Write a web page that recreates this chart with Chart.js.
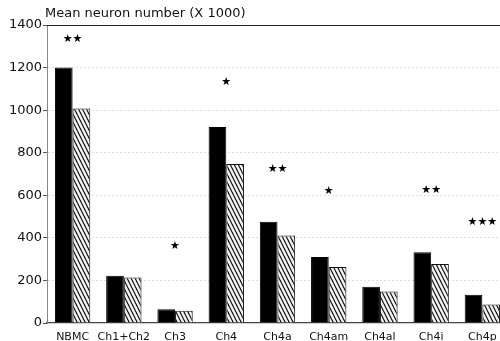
<!DOCTYPE html>
<html>
<head>
<meta charset="utf-8">
<script src="https://cdn.jsdelivr.net/npm/chart.js@4.4.1/dist/chart.umd.min.js"></script>
<style>
  html, body { margin: 0; padding: 0; background: #fff; overflow: hidden; }
  #wrap { position: relative; width: 508px; height: 341px; }
</style>
</head>
<body>
<div id="wrap"><canvas id="c"></canvas></div>
<script>
// Basal forebrain cell groups
const categories = ['NBMC', 'Ch1+Ch2', 'Ch3', 'Ch4', 'Ch4a', 'Ch4am', 'Ch4al', 'Ch4i', 'Ch4p'];
// Mean neuron number (x 1000), solid bars
const controlValues = [1200, 222, 65, 921, 476, 310, 170, 332, 133];
// Mean neuron number (x 1000), hatched bars
const patientValues = [1008, 214, 58, 747, 411, 263, 148, 277, 87];
// Significance marks and the level they sit at
const sigMarks = ['★★', '', '★', '★', '★★', '★', '', '★★', '★★★'];
const sigLevels = [1335, null, 362, 1130, 724, 620, null, 625, 476];
const yTicks = [0, 200, 400, 600, 800, 1000, 1200, 1400];
const axisTitle = 'Mean neuron number (X 1000)';

const FONT = "'DejaVu Sans', sans-serif";

function hatchPattern(ctx) {
  const t = document.createElement('canvas');
  t.width = 4; t.height = 8;
  const g = t.getContext('2d');
  g.fillStyle = '#f2f2f2';
  g.fillRect(0, 0, 4, 8);
  g.strokeStyle = '#111';
  g.lineWidth = 1.2;
  for (const off of [-4, 0, 4]) {
    g.beginPath();
    g.moveTo(off - 1, -2);
    g.lineTo(off + 5, 10);
    g.stroke();
  }
  return ctx.createPattern(t, 'repeat');
}

const ctx = document.getElementById('c').getContext('2d');

const overlay = {
  id: 'overlay',
  afterDatasetsDraw(chart) {
    const { ctx, chartArea, scales } = chart;
    ctx.save();
    // frame line along the top of the plot
    ctx.strokeStyle = '#222';
    ctx.lineWidth = 1.2;
    ctx.beginPath();
    ctx.moveTo(chartArea.left, chartArea.top + 0.5);
    ctx.lineTo(chartArea.right, chartArea.top + 0.5);
    ctx.stroke();
    // significance stars
    ctx.fillStyle = '#000';
    ctx.font = '11px ' + FONT;
    ctx.textAlign = 'center';
    ctx.textBaseline = 'middle';
    categories.forEach((c, i) => {
      if (!sigMarks[i]) return;
      const x = scales.x.getPixelForValue(i);
      const y = scales.y.getPixelForValue(sigLevels[i]);
      ctx.fillText(sigMarks[i], x, y);
    });
    // axis caption above the plot
    ctx.font = '13px ' + FONT;
    ctx.textAlign = 'left';
    ctx.textBaseline = 'middle';
    ctx.fillStyle = '#111';
    ctx.fillText(axisTitle, chartArea.left - 2, 14);
    ctx.restore();
  }
};

new Chart(ctx, {
  type: 'bar',
  data: {
    labels: categories,
    datasets: [
      {
        data: controlValues,
        backgroundColor: '#000',
        borderColor: '#000',
        borderWidth: 1,
        barPercentage: 1,
        categoryPercentage: 0.69
      },
      {
        data: patientValues,
        backgroundColor: hatchPattern(ctx),
        borderColor: '#111',
        borderWidth: 1,
        barPercentage: 1,
        categoryPercentage: 0.69
      }
    ]
  },
  options: {
    responsive: true,
    maintainAspectRatio: false,
    animation: false,
    layout: { padding: { top: 25, right: 0, left: 0, bottom: 0 } },
    plugins: { legend: { display: false }, tooltip: { enabled: false }, title: { display: false } },
    scales: {
      x: {
        grid: { display: false },
        border: { color: '#444', width: 1.2 },
        ticks: { color: '#111', font: { family: FONT, size: 11 }, padding: 0, maxRotation: 0, autoSkip: false },
        afterFit(s) { s.height = 18; }
      },
      y: {
        min: 0,
        max: 1400,
        afterBuildTicks(s) { s.ticks = yTicks.map(v => ({ value: v })); },
        grid: {
          color: ctx => (ctx.tick && ctx.tick.value > 0 && ctx.tick.value < 1400) ? 'rgba(0,0,0,0.13)' : 'rgba(0,0,0,0)',
          tickColor: '#555',
          tickLength: 4,
          drawTicks: true
        },
        border: { color: '#888', width: 1, dash: [2, 2] },
        ticks: {
          color: '#111',
          font: { family: FONT, size: 13 },
          padding: 1,
          callback: v => String(v)
        },
        afterFit(s) { s.width = 47; }
      }
    }
  },
  plugins: [overlay]
});
</script>
</body>
</html>
